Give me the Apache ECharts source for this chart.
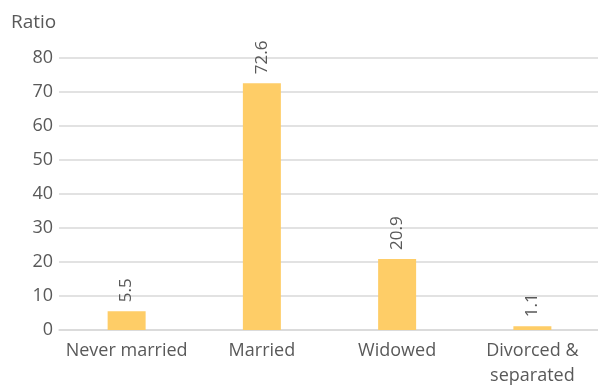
<!DOCTYPE html>
<html>
<head>
<meta charset="utf-8">
<script src="https://cdn.jsdelivr.net/npm/echarts@6/dist/echarts.min.js"></script>
<style>
  html, body { margin: 0; padding: 0; background: #fff; }
  #chart { width: 598px; height: 385px; }
</style>
</head>
<body>
<div id="chart"></div>
<script>
// Marital status categories and their ratios
const categories = ['Never married', 'Married', 'Widowed', 'Divorced &\nseparated'];
const ratios = [5.5, 72.6, 20.9, 1.1];
const yTicks = { min: 0, max: 80, interval: 10 };

const textColor = '#595959';
const fontFamily = 'Open Sans, sans-serif';

const chart = echarts.init(document.getElementById('chart'), null, { renderer: 'canvas' });
chart.setOption({
  animation: false,
  title: {
    text: 'Ratio',
    left: 6,
    top: 8,
    textStyle: { color: textColor, fontFamily, fontSize: 19, fontWeight: 'normal' }
  },
  grid: { left: 59, right: -2, top: 58, bottom: 55, containLabel: false, outerBoundsMode: 'none' },
  xAxis: {
    type: 'category',
    data: categories,
    axisTick: { show: false },
    axisLine: { lineStyle: { color: '#d9d9d9', width: 1.5 } },
    axisLabel: { color: textColor, fontFamily, fontSize: 18, margin: 8, lineHeight: 25, interval: 0 }
  },
  yAxis: {
    type: 'value',
    min: yTicks.min,
    max: yTicks.max,
    interval: yTicks.interval,
    axisLine: { show: false },
    axisTick: { show: false },
    splitLine: { lineStyle: { color: '#d9d9d9', width: 1.5 } },
    axisLabel: { color: textColor, fontFamily, fontSize: 18, margin: 6 }
  },
  series: [{
    type: 'bar',
    data: ratios,
    barWidth: 38,
    itemStyle: { color: '#fecd67' },
    label: {
      show: true,
      position: 'top',
      rotate: 90,
      align: 'left',
      verticalAlign: 'middle',
      distance: 9,
      color: textColor,
      fontFamily,
      fontSize: 17,
      formatter: p => p.value.toFixed(1)
    }
  }]
});
</script>
</body>
</html>
